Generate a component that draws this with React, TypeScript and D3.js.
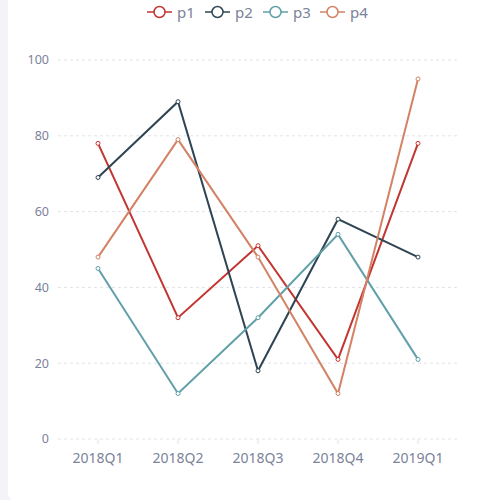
import React from 'react';
import * as d3 from 'd3';

const quarters = ['2018Q1', '2018Q2', '2018Q3', '2018Q4', '2019Q1'];
const seriesNames = ['p1', 'p2', 'p3', 'p4'];
const p1 = [78, 32, 51, 21, 78];
const p2 = [69, 89, 18, 58, 48];
const p3 = [45, 12, 32, 54, 21];
const p4 = [48, 79, 48, 12, 95];
const yTicks = [0, 20, 40, 60, 80, 100];
const colors = ['#c23531', '#2f4554', '#61a0a8', '#d48265'];

const W = 500;
const H = 500;
const textColor = '#7c829a';
const font = '"Noto Sans", "DejaVu Sans", sans-serif';

const App: React.FC = () => {
  const values = [p1, p2, p3, p4];

  const x = d3.scaleBand<string>().domain(quarters).range([58, 458]);
  const y = d3.scaleLinear().domain([0, 100]).range([439, 60]);
  const cx = (q: string) => x(q)! + x.bandwidth() / 2;

  const line = d3
    .line<number>()
    .x((_, i) => cx(quarters[i]))
    .y(d => y(d));

  const legendX = [147, 205, 263, 320];

  return (
    <div style={{ position: 'fixed', left: 0, top: 0, width: W, height: H }}>
      <svg width={W} height={H} style={{ display: 'block', fontFamily: font }}>
        <rect x={0} y={0} width={W} height={H} fill="#f3f3f8" />
        <rect x={8} y={-12} width={W + 12} height={H + 13} rx={8} fill="#ffffff" />

        {/* legend */}
        {seriesNames.map((name, i) => (
          <g key={name} transform={`translate(${legendX[i]}, 12)`}>
            <line x1={0} x2={25} y1={0} y2={0} stroke={colors[i]} strokeWidth={2} opacity={0.75} />
            <circle cx={12.5} cy={0} r={5.5} fill="#fff" stroke={colors[i]} strokeWidth={1.5} />
            <text x={30} y={5.5} fontSize={15} fill={textColor}>
              {name}
            </text>
          </g>
        ))}

        {/* grid + y labels */}
        {yTicks.map(t => (
          <g key={t}>
            <line
              x1={58}
              x2={458}
              y1={y(t)}
              y2={y(t)}
              stroke="#e0e3ea"
              strokeWidth={1}
              strokeDasharray="3,3"
            />
            <text
              x={49}
              y={y(t)}
              dy="0.35em"
              textAnchor="end"
              fontSize={12.5}
              fill={textColor}
            >
              {t}
            </text>
          </g>
        ))}

        {/* x axis */}
        {quarters.map(q => (
          <g key={q}>
            <line x1={cx(q)} x2={cx(q)} y1={439} y2={444} stroke="#e0e3ea" />
            <text x={cx(q)} y={463} textAnchor="middle" fontSize={14} fill={textColor}>
              {q}
            </text>
          </g>
        ))}

        {/* series */}
        {values.map((vals, i) => (
          <g key={seriesNames[i]}>
            <path d={line(vals) || ''} fill="none" stroke={colors[i]} strokeWidth={2} />
            {vals.map((v, j) => (
              <circle
                key={j}
                cx={cx(quarters[j])}
                cy={y(v)}
                r={2}
                fill="#fff"
                stroke={colors[i]}
                strokeWidth={1}
              />
            ))}
          </g>
        ))}
      </svg>
    </div>
  );
};

export default App;
